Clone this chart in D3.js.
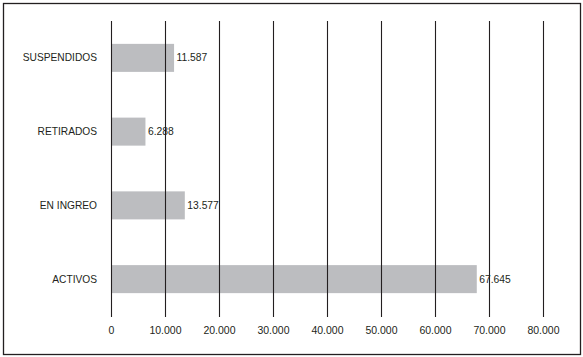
<!DOCTYPE html>
<html>
<head>
<meta charset="utf-8">
<script src="https://cdn.jsdelivr.net/npm/d3@7"></script>
<style>
  body { margin: 0; background: #fff; }
  text { font-family: "Liberation Sans", Arial, sans-serif; fill: #231f20; }
</style>
</head>
<body>
<div id="chart"></div>
<script>
const categories = ["SUSPENDIDOS", "RETIRADOS", "EN INGREO", "ACTIVOS"];
const values = [11587, 6288, 13577, 67645];
const tickValues = [0, 10000, 20000, 30000, 40000, 50000, 60000, 70000, 80000];

const w = 583;
const h = 357;

const fmt = (v) => d3.format(",")(v).replace(/,/g, ".");

const svg = d3.select("#chart")
  .append("svg")
  .attr("width", w)
  .attr("height", h);

// frame
svg.append("rect")
  .attr("x", 3.5)
  .attr("y", 3.5)
  .attr("width", 577)
  .attr("height", 351)
  .attr("fill", "none")
  .attr("stroke", "#231f20")
  .attr("stroke-width", 1.3);

// scales
const xScale = d3.scaleLinear()
  .domain([0, 80000])
  .range([111.5, 543.5]);

const yScale = d3.scaleBand()
  .domain(categories)
  .range([21, 316])
  .paddingInner(0.62)
  .paddingOuter(0.31);

// bars
svg.selectAll(".bar")
  .data(values)
  .enter()
  .append("rect")
  .attr("class", "bar")
  .attr("x", xScale(0))
  .attr("y", (d, i) => yScale(categories[i]))
  .attr("width", (d) => xScale(d) - xScale(0))
  .attr("height", yScale.bandwidth())
  .attr("fill", "#bcbdc0");

// value labels
svg.selectAll(".valLabel")
  .data(values)
  .enter()
  .append("text")
  .attr("class", "valLabel")
  .attr("x", (d) => xScale(d) + 2.5)
  .attr("y", (d, i) => yScale(categories[i]) + yScale.bandwidth() / 2)
  .attr("dy", "0.35em")
  .attr("font-size", "10.3px")
  .text((d) => fmt(d));

// grid lines over the bars
svg.selectAll(".grid")
  .data(tickValues)
  .enter()
  .append("line")
  .attr("class", "grid")
  .attr("x1", (d) => xScale(d))
  .attr("x2", (d) => xScale(d))
  .attr("y1", 21)
  .attr("y2", 317)
  .attr("stroke", "#231f20")
  .attr("stroke-width", 1.1);

// x tick labels
svg.selectAll(".tickLabel")
  .data(tickValues)
  .enter()
  .append("text")
  .attr("class", "tickLabel")
  .attr("x", (d) => xScale(d))
  .attr("y", 330)
  .attr("dy", "0.35em")
  .attr("text-anchor", "middle")
  .attr("font-size", "10.5px")
  .text((d) => fmt(d));

// category labels
svg.selectAll(".catLabel")
  .data(categories)
  .enter()
  .append("text")
  .attr("class", "catLabel")
  .attr("x", 97)
  .attr("y", (d) => yScale(d) + yScale.bandwidth() / 2)
  .attr("dy", "0.35em")
  .attr("text-anchor", "end")
  .attr("font-size", "10.2px")
  .text((d) => d);
</script>
</body>
</html>
